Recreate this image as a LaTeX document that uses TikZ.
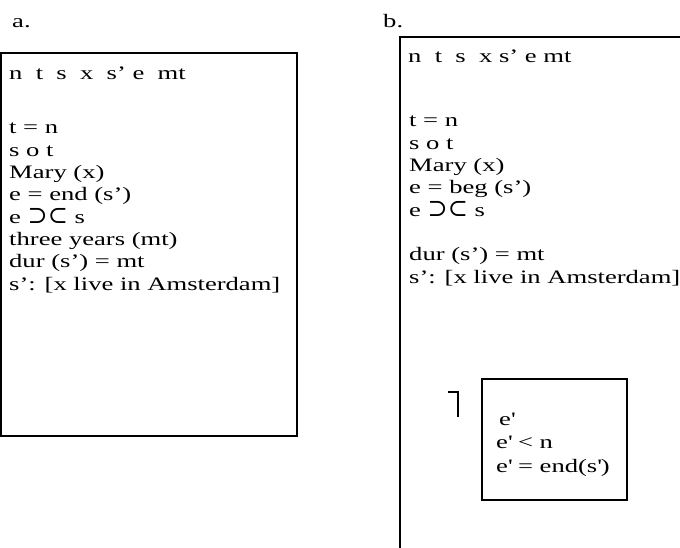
\documentclass[tikz,border=0pt]{standalone}
\usepackage{fontspec}
\setmainfont{Liberation Serif}[FakeStretch=1.40]
\newfontfamily\symfnt{DejaVu Serif}
\newcommand{\supsub}{{\symfnt\fontsize{24}{22.3}\selectfont ⊃⊂}}
\usetikzlibrary{positioning}

\begin{document}
\begin{tikzpicture}[x=1pt, y=-1pt,
  %% ── text styles ──────────────────────────────────────────────────────────
  txt/.style    = {anchor=base west, inner sep=0pt, align=left,
                   font=\fontsize{19}{22.3}\selectfont},
  subtxt/.style = {txt, font=\fontsize{19}{23.5}\selectfont},
  %% ── frame styles ─────────────────────────────────────────────────────────
  frm/.style    = {line width=1.8pt, line cap=rect},
  negbox/.style = {draw, line width=1.3pt, inner sep=0pt,
                   minimum width=145pt, minimum height=121pt},
  negsgn/.style = {line width=1.3pt},
]
\useasboundingbox (0,0) rectangle (680,548);

%% ═══════════════════════════════════════════════════════════════════════════
%% BOX a  (multi-line nodes sit on the baseline of their last line)
%% ═══════════════════════════════════════════════════════════════════════════
\node[txt] (labA) at (12,28) {a.};
\draw[frm] (1,53) rectangle (297,436);
\node[txt] (headA) at (9,80) {n~ t~ s~ x~ s’ e~ mt};
\node[txt] (bodyA) at (9,290)
  {t = n\\
   s o t\\
   Mary (x)\\
   e = end (s’)\\
   e \supsub{} s\\
   three years (mt)\\
   dur (s’) = mt\\
   s’: [x live in Amsterdam]};

%% ═══════════════════════════════════════════════════════════════════════════
%% BOX b (open to the right and below)
%% ═══════════════════════════════════════════════════════════════════════════
\node[txt] (labB) at (383,28) {b.};
\draw[frm] (681,37) -- (400,37) -- (400,549);
\node[txt] (headB) at (408,63) {n~ t~ s~ x s’ e mt};
\node[txt] (bodyB) at (409,283)
  {t = n\\
   s o t\\
   Mary (x)\\
   e = beg (s’)\\
   e \supsub{} s\\[22.3pt]
   dur (s’) = mt\\
   s’: [x live in Amsterdam]};

%% ── negated sub-box ──────────────────────────────────────────────────────
\node[negbox] (neg) at (554.5,439.5) {};
\draw[negsgn] (448,392) -- (458,392) -- (458,417);
\node[subtxt] (negtxt) at (496,472)
  {\hspace*{3pt}e\textquotesingle\\
   e\textquotesingle{} < n\\
   e\textquotesingle{} = end(s\textquotesingle)};

\end{tikzpicture}
\end{document}
